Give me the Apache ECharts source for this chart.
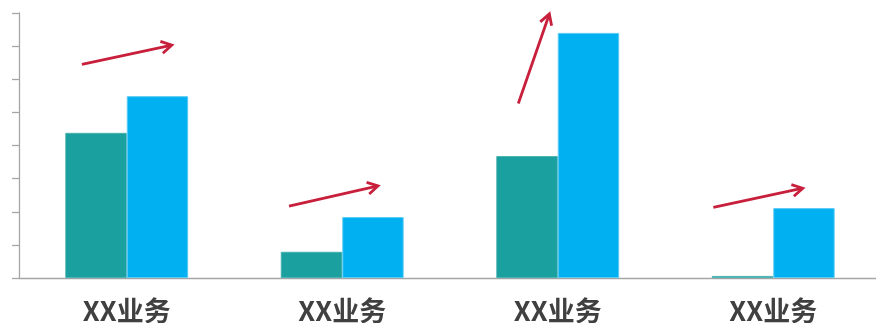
<!DOCTYPE html>
<html>
<head>
<meta charset="utf-8">
<script src="https://cdn.jsdelivr.net/npm/echarts@6/dist/echarts.min.js"></script>
<style>
html,body{margin:0;padding:0;background:#fff;}
#chart{width:876px;height:323px;}
</style>
</head>
<body>
<div id="chart"></div>
<script>
const categories = ['XX业务', 'XX业务', 'XX业务', 'XX业务'];
const seriesA = [43.8, 7.9, 36.8, 0.6];
const seriesB = [54.9, 18.4, 74.0, 21.1];
// trend arrows: category index, start value, end value, start/end offset (fraction of category band)
const arrowCat = [0, 1, 2, 3];
const arrowStartValue = [64.5, 21.7, 52.7, 21.3];
const arrowEndValue = [70.3, 27.8, 79.7, 27.1];
const arrowStartOffset = [-0.208, -0.247, -0.183, -0.278];
const arrowEndOffset = [0.209, 0.166, -0.039, 0.137];

const arrowData = arrowCat.map((c, i) => [c, arrowStartValue[i], arrowEndValue[i], arrowStartOffset[i], arrowEndOffset[i]]);

const chart = echarts.init(document.getElementById('chart'));
chart.setOption({
  animation: false,
  grid: { left: 19, width: 862, top: 13, height: 265, containLabel: false, outerBoundsMode: 'none' },
  xAxis: {
    type: 'category',
    data: categories,
    axisLine: { lineStyle: { color: '#A6A6A6', width: 1.3 } },
    axisTick: { length: 5, lineStyle: { color: '#A6A6A6', width: 1.3 } },
    axisLabel: { fontSize: 27, fontWeight: 'bold', color: '#404040', margin: 19,
      fontFamily: '"Noto Sans CJK SC", sans-serif' }
  },
  yAxis: {
    type: 'value',
    min: 0, max: 80, interval: 10,
    axisLine: { show: true, lineStyle: { color: '#A6A6A6', width: 1.3 } },
    axisTick: { show: true, length: 7, lineStyle: { color: '#A6A6A6', width: 1.3 } },
    axisLabel: { show: false },
    splitLine: { show: false }
  },
  series: [
    { type: 'bar', data: seriesA, barWidth: '28.5%', barGap: '0%',
      itemStyle: { color: '#1AA09E', borderColor: '#3FAFAD', borderWidth: 0.8 } },
    { type: 'bar', data: seriesB, barWidth: '28.5%', barGap: '0%',
      itemStyle: { color: '#00B0F0', borderColor: '#5CCBF5', borderWidth: 1 } },
    {
      type: 'custom',
      clip: false,
      data: arrowData,
      encode: { x: 0, y: [1, 2] },
      z: 5,
      renderItem: function (params, api) {
        const c = api.value(0);
        const p1 = api.coord([c, api.value(1)]);
        const p2 = api.coord([c, api.value(2)]);
        const w = api.size([1, 0])[0];
        const x1 = p1[0] + api.value(3) * w, y1 = p1[1];
        const x2 = p2[0] + api.value(4) * w, y2 = p2[1];
        const a = Math.atan2(y2 - y1, x2 - x1);
        const L = 12, s = Math.PI / 6;
        const style = { stroke: '#C8203C', lineWidth: 2.8, fill: null, lineCap: 'butt', lineJoin: 'miter' };
        return {
          type: 'group',
          children: [
            { type: 'line', shape: { x1: x1, y1: y1, x2: x2 - Math.cos(a) * 1, y2: y2 - Math.sin(a) * 1 }, style: style },
            { type: 'polyline', shape: { points: [
              [x2 - L * Math.cos(a - s), y2 - L * Math.sin(a - s)],
              [x2, y2],
              [x2 - L * Math.cos(a + s), y2 - L * Math.sin(a + s)]
            ] }, style: style }
          ]
        };
      }
    }
  ]
});
</script>
</body>
</html>
